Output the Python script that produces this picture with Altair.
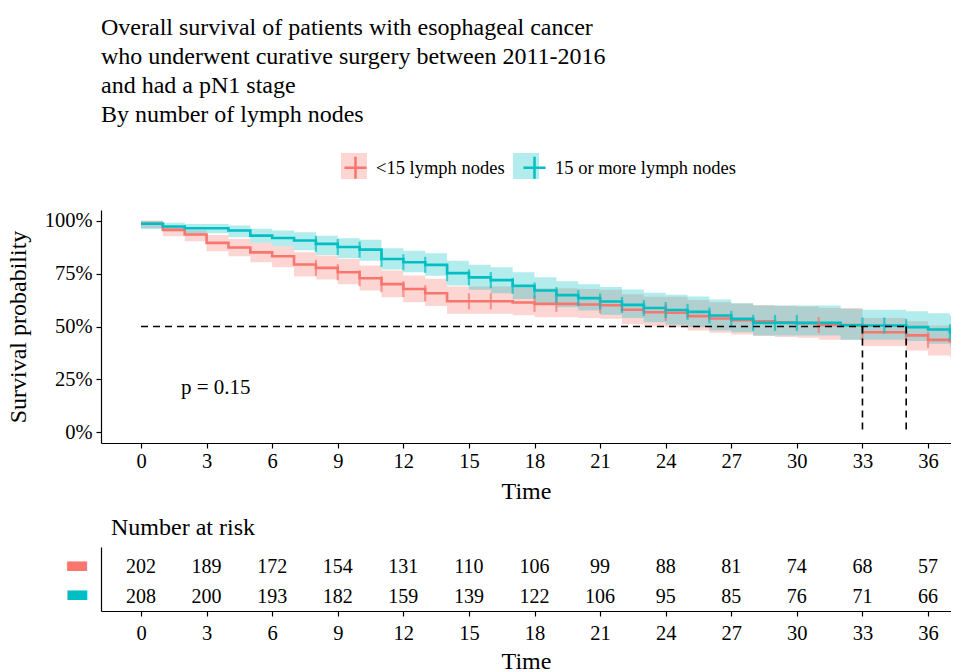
import altair as alt
import pandas as pd

# ---------------- data ----------------
groups = ["<15 lymph nodes", "15 or more lymph nodes"]
colors = ["#F8766D", "#00BFC4"]

# step-curve values: one value per month interval starting at t = 0 .. 37
months = list(range(0, 38))
red_surv = [0.985, 0.956, 0.934, 0.895, 0.873, 0.850, 0.832, 0.793, 0.777, 0.756,
            0.728, 0.700, 0.677, 0.657, 0.619, 0.619, 0.619, 0.613, 0.607, 0.607,
            0.604, 0.600, 0.579, 0.567, 0.565, 0.549, 0.538, 0.530, 0.524, 0.520,
            0.516, 0.507, 0.507, 0.473, 0.473, 0.458, 0.437, 0.429]
red_lo = [0.965, 0.926, 0.902, 0.855, 0.832, 0.803, 0.780, 0.736, 0.722, 0.700,
          0.670, 0.638, 0.615, 0.597, 0.560, 0.560, 0.560, 0.553, 0.544, 0.544,
          0.540, 0.537, 0.512, 0.500, 0.496, 0.481, 0.470, 0.462, 0.455, 0.451,
          0.447, 0.437, 0.437, 0.407, 0.407, 0.387, 0.363, 0.355]
red_hi = [1.000, 0.975, 0.953, 0.932, 0.914, 0.895, 0.879, 0.850, 0.835, 0.819,
          0.788, 0.764, 0.741, 0.725, 0.689, 0.689, 0.689, 0.684, 0.680, 0.680,
          0.677, 0.673, 0.652, 0.640, 0.640, 0.625, 0.615, 0.608, 0.602, 0.598,
          0.595, 0.587, 0.587, 0.540, 0.540, 0.525, 0.505, 0.498]
teal_surv = [0.985, 0.972, 0.964, 0.964, 0.953, 0.929, 0.918, 0.906, 0.890, 0.875,
             0.863, 0.819, 0.803, 0.791, 0.752, 0.732, 0.719, 0.692, 0.670, 0.648,
             0.634, 0.618, 0.602, 0.587, 0.578, 0.569, 0.552, 0.536, 0.517, 0.517,
             0.517, 0.517, 0.506, 0.505, 0.505, 0.497, 0.486, 0.473]
teal_lo = [0.960, 0.950, 0.940, 0.940, 0.921, 0.895, 0.879, 0.860, 0.838, 0.822,
           0.811, 0.769, 0.756, 0.740, 0.693, 0.673, 0.657, 0.630, 0.610, 0.591,
           0.575, 0.555, 0.540, 0.520, 0.508, 0.497, 0.481, 0.473, 0.458, 0.458,
           0.458, 0.458, 0.437, 0.437, 0.437, 0.431, 0.418, 0.404]
teal_hi = [0.998, 0.990, 0.984, 0.984, 0.977, 0.961, 0.953, 0.945, 0.929, 0.917,
           0.910, 0.869, 0.858, 0.846, 0.811, 0.792, 0.780, 0.756, 0.733, 0.714,
           0.700, 0.686, 0.675, 0.659, 0.650, 0.642, 0.627, 0.610, 0.599, 0.599,
           0.599, 0.599, 0.583, 0.579, 0.579, 0.572, 0.563, 0.552]

red_censor = [8, 9, 10, 11, 12, 13, 15, 16, 18, 19, 21, 24, 31, 33, 35, 36]
teal_censor = [8, 9, 10, 11, 12, 13, 14, 15, 16, 17, 18, 19, 20, 21, 22, 23, 24,
               25, 26, 27, 28, 29, 30, 33, 34, 35, 37]

median_times = [33, 35]
pval_text = "p = 0.15"

risk_times = [0, 3, 6, 9, 12, 15, 18, 21, 24, 27, 30, 33, 36]
risk_red = [202, 189, 172, 154, 131, 110, 106, 99, 88, 81, 74, 68, 57]
risk_teal = [208, 200, 193, 182, 159, 139, 122, 106, 95, 85, 76, 71, 66]

# ---------------- tables ----------------
curve_rows = []
for g, s, lo, hi in [(groups[0], red_surv, red_lo, red_hi),
                     (groups[1], teal_surv, teal_lo, teal_hi)]:
    for i, t in enumerate(months):
        curve_rows.append(dict(t=t, s=s[i], lo=lo[i], hi=hi[i], grp=g, grpb=g))
    curve_rows.append(dict(t=months[-1] + 1, s=s[-1], lo=lo[-1], hi=hi[-1], grp=g, grpb=g))
curves = pd.DataFrame(curve_rows)

cens_rows = []
for g, s, cl in [(groups[0], red_surv, red_censor), (groups[1], teal_surv, teal_censor)]:
    for t in cl:
        cens_rows.append(dict(t=t, s=s[months.index(t)], grp=g))
cens = pd.DataFrame(cens_rows)

med = pd.DataFrame({
    "x": [0] + median_times,
    "x2": [max(median_times)] + median_times,
    "y": [0.5] * (len(median_times) + 1),
    "y2": [0.5] + [0.0] * len(median_times),
})

pv = pd.DataFrame({"t": [1.83], "s": [0.21], "label": [pval_text]})

risk_rows = []
for g, vals in [(groups[0], risk_red), (groups[1], risk_teal)]:
    for t, n in zip(risk_times, vals):
        risk_rows.append(dict(t=t, n=n, grp=g))
risk = pd.DataFrame(risk_rows)

# ---------------- styling ----------------
FONT = "Liberation Serif"
W = 850
xs = alt.Scale(domain=[-1.83, 37.05], nice=False, zero=False)
ys = alt.Scale(domain=[-0.05, 1.05], nice=False, zero=False)

xaxis = alt.Axis(values=risk_times, title="Time", labelPadding=3, titlePadding=8)
yaxis = alt.Axis(values=[0, 0.25, 0.5, 0.75, 1.0], format=".0%", title="Survival probability",
                 labelPadding=4, titlePadding=14)

leg_common = dict(orient="none", legendX=240, legendY=-57, direction="horizontal", title=None,
                  symbolSize=676, labelFontSize=18.5, labelFont=FONT, labelOffset=6,
                  labelColor="black", labelLimit=400)

bands = alt.Chart(curves).mark_area(interpolate="step-after", opacity=0.3, clip=True).encode(
    x=alt.X("t:Q", scale=xs, axis=xaxis),
    y=alt.Y("lo:Q", scale=ys, axis=yaxis),
    y2="hi:Q",
    fill=alt.Fill("grpb:N", sort=groups, scale=alt.Scale(range=colors),
                  legend=alt.Legend(symbolType="square", symbolOpacity=0.3, symbolStrokeWidth=0,
                                    labelExpr="''", columnPadding=140, **leg_common)),
)

lines = alt.Chart(curves).mark_line(interpolate="step-after", strokeWidth=2.6, clip=True).encode(
    x="t:Q",
    y="s:Q",
    stroke=alt.Stroke("grp:N", sort=groups, scale=alt.Scale(range=colors),
                      legend=alt.Legend(symbolType="M-0.85,0L0.85,0M0,-0.85L0,0.85",
                                        symbolStrokeWidth=2.5, symbolOpacity=1, columnPadding=13,
                                        **leg_common)),
)

ticks = alt.Chart(cens).mark_tick(orient="vertical", size=16, thickness=2.2, clip=True).encode(
    x="t:Q",
    y="s:Q",
    color=alt.Color("grp:N", sort=groups, scale=alt.Scale(range=colors), legend=None),
)

rules = alt.Chart(med).mark_rule(color="black", strokeDash=[7, 5], strokeWidth=1.6).encode(
    x="x:Q", x2="x2:Q", y="y:Q", y2="y2:Q"
)

ptext = alt.Chart(pv).mark_text(align="left", baseline="middle", fontSize=21, font=FONT,
                                color="black").encode(x="t:Q", y="s:Q", text="label:N")

main = alt.layer(bands, lines, ticks, rules, ptext).properties(
    width=W, height=233,
    title=alt.TitleParams(
        text=["Overall survival of patients with esophageal cancer",
              "who underwent curative surgery between 2011-2016",
              "and had a pN1 stage",
              "By number of lymph nodes"],
        anchor="start", frame="group", fontSize=24, font=FONT, fontWeight="normal",
        lineHeight=29, offset=83, color="black"),
)

table = alt.Chart(risk).mark_text(fontSize=20, font=FONT, color="black", dy=3).encode(
    x=alt.X("t:Q", scale=xs, axis=alt.Axis(values=risk_times, title="Time", labelPadding=7,
                                           titlePadding=6)),
    y=alt.Y("grp:N", sort=groups, scale=alt.Scale(type="point", padding=0.6),
            axis=alt.Axis(title=None, ticks=False, labelExpr="'\u25ac'", labelFont="DejaVu Sans",
                          labelFontSize=26, labelPadding=12, labelBaseline="middle",
                          labelColor={"condition": {"test": "datum.value === '<15 lymph nodes'",
                                                    "value": colors[0]},
                                      "value": colors[1]})),
    text="n:Q",
).properties(
    width=W, height=64,
    title=alt.TitleParams("Number at risk", anchor="start", frame="group", dx=10, fontSize=24,
                          font=FONT, fontWeight="normal", offset=7, color="black"),
)

chart = alt.vconcat(main, table, spacing=12).properties(
    padding={"left": -2, "top": 8, "right": 0, "bottom": 0}
).configure_view(stroke=None).configure_axis(
    grid=False, domainColor="black", tickColor="black", labelColor="black", titleColor="black",
    tickSize=5, labelFontSize=20.5, titleFontSize=24, labelFont=FONT, titleFont=FONT,
    titleFontWeight="normal", domainWidth=1.2, tickWidth=1.2,
)

chart.save("out.html", embed_options={"renderer": "svg", "actions": False})
